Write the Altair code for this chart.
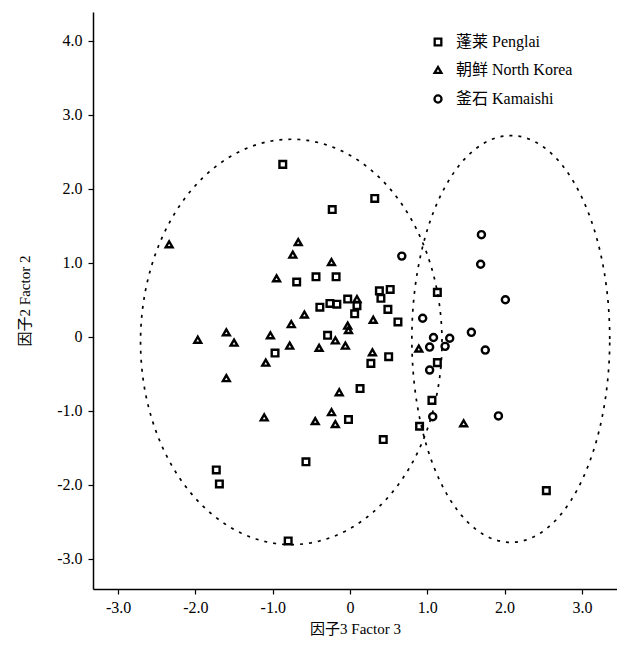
import altair as alt
import pandas as pd
import numpy as np

# --- data ---
penglai_x = [-0.87, -0.23, 0.32, -0.69, -0.44, -0.18, 0.38, 0.52, 0.40, 0.49, 0.62, 1.13,
             -0.39, -0.26, -0.17, -0.03, 0.09, 0.06, -0.29, -0.97, 0.27, 0.50, 0.13, -0.02,
             0.43, -0.57, -1.73, -1.69, -0.80, 1.06, 0.90, 1.13, 2.54]
penglai_y = [2.33, 1.72, 1.87, 0.74, 0.81, 0.81, 0.62, 0.64, 0.52, 0.37, 0.20, 0.60,
             0.40, 0.45, 0.44, 0.51, 0.42, 0.31, 0.02, -0.22, -0.36, -0.27, -0.70, -1.12,
             -1.39, -1.69, -1.80, -1.99, -2.76, -0.86, -1.21, -0.35, -2.08]

korea_x = [-2.34, -0.67, -0.74, -0.24, -0.95, -0.59, -0.76, 0.09, 0.30, -0.03, -0.02,
           -1.03, -0.78, -0.40, -0.19, -0.06, -1.09, 0.29, -0.14, -0.24, -0.19, -0.45,
           -1.11, -1.60, -1.50, -1.97, -1.60, 0.89, 1.47]
korea_y = [1.25, 1.28, 1.11, 1.01, 0.79, 0.30, 0.17, 0.51, 0.23, 0.15, 0.09,
           0.02, -0.12, -0.15, -0.05, -0.12, -0.35, -0.21, -0.75, -1.02, -1.18, -1.14,
           -1.09, 0.06, -0.08, -0.04, -0.56, -0.16, -1.17]

kamaishi_x = [0.67, 1.70, 1.69, 2.01, 0.94, 1.57, 1.75, 1.08, 1.29, 1.03, 1.23, 1.03, 1.07, 1.92]
kamaishi_y = [1.09, 1.38, 0.98, 0.50, 0.25, 0.06, -0.18, -0.01, -0.02, -0.14, -0.13, -0.45, -1.08, -1.07]

groups = ["蓬莱 Penglai", "朝鲜 North Korea", "釜石 Kamaishi"]

# ellipse outlines: centre x, centre y, half-width, half-height
ellipse_cx = [-0.76, 2.08]
ellipse_cy = [-0.07, -0.03]
ellipse_rx = [1.95, 1.28]
ellipse_ry = [2.74, 2.75]

x_ticks = [-3, -2, -1, 0, 1, 2, 3]
y_ticks = [-3, -2, -1, 0, 1, 2, 3, 4]

# --- tables ---
pts = pd.concat([
    pd.DataFrame({"x": penglai_x, "y": penglai_y, "g": groups[0]}),
    pd.DataFrame({"x": korea_x, "y": korea_y, "g": groups[1]}),
    pd.DataFrame({"x": kamaishi_x, "y": kamaishi_y, "g": groups[2]}),
], ignore_index=True)

t = np.linspace(0, 2 * np.pi, 241)
ell_rows = []
for k in range(len(ellipse_cx)):
    for i, a in enumerate(t):
        ell_rows.append({"e": k, "i": i,
                         "x": ellipse_cx[k] + ellipse_rx[k] * np.cos(a),
                         "y": ellipse_cy[k] + ellipse_ry[k] * np.sin(a)})
ell = pd.DataFrame(ell_rows)

FONT = "Liberation Serif, Noto Sans CJK SC"
label_expr = ("datum.value == 0 ? '0' : (datum.value < 0 ? '-' + format(-datum.value, '.1f') "
              ": format(datum.value, '.1f'))")

xscale = alt.Scale(domain=[-3.325, 3.454], nice=False, zero=False)
yscale = alt.Scale(domain=[-3.41, 4.39], nice=False, zero=False)

xaxis = alt.Axis(title="因子3 Factor 3", values=x_ticks, labelExpr=label_expr,
                 labelPadding=5, titlePadding=6)
yaxis = alt.Axis(title="因子2 Factor 2", values=y_ticks, labelExpr=label_expr,
                 labelPadding=6, titlePadding=24)

ellipses = alt.Chart(ell).mark_line(
    color="black", strokeWidth=1.7, strokeDash=[3, 6]
).encode(
    x=alt.X("x:Q", scale=xscale, axis=xaxis),
    y=alt.Y("y:Q", scale=yscale, axis=yaxis),
    order="i:Q",
    detail="e:N",
)

legend = alt.Legend(title=None, orient="none", legendX=337, legendY=22,
                    labelFont=FONT, labelFontSize=16, labelColor="black",
                    symbolStrokeColor="black", symbolStrokeWidth=2.3,
                    symbolFillColor="transparent", rowPadding=12, labelOffset=10)

points = alt.Chart(pts).mark_point(
    filled=False, color="black", strokeWidth=2.4, opacity=1
).encode(
    x=alt.X("x:Q", scale=xscale),
    y=alt.Y("y:Q", scale=yscale),
    shape=alt.Shape("g:N", scale=alt.Scale(domain=groups, range=["square", "triangle-up", "circle"]),
                    legend=legend),
    size=alt.Size("g:N", scale=alt.Scale(domain=groups, range=[44, 50, 120]), legend=legend),
)

chart = alt.layer(ellipses, points).properties(
    width=524, height=577,
    autosize=alt.AutoSizeParams(type="none"),
    padding={"left": 85, "top": 4, "right": 0, "bottom": 50},
).configure_view(stroke=None).configure_axis(
    grid=False, domainColor="black", domainWidth=1.5, tickColor="black", tickWidth=1.2,
    tickSize=5, labelFont=FONT, labelFontSize=16, labelColor="black",
    titleFont=FONT, titleFontSize=15, titleFontWeight="normal", titleColor="black",
)

chart.save("out.html", embed_options={"renderer": "svg", "actions": False})
